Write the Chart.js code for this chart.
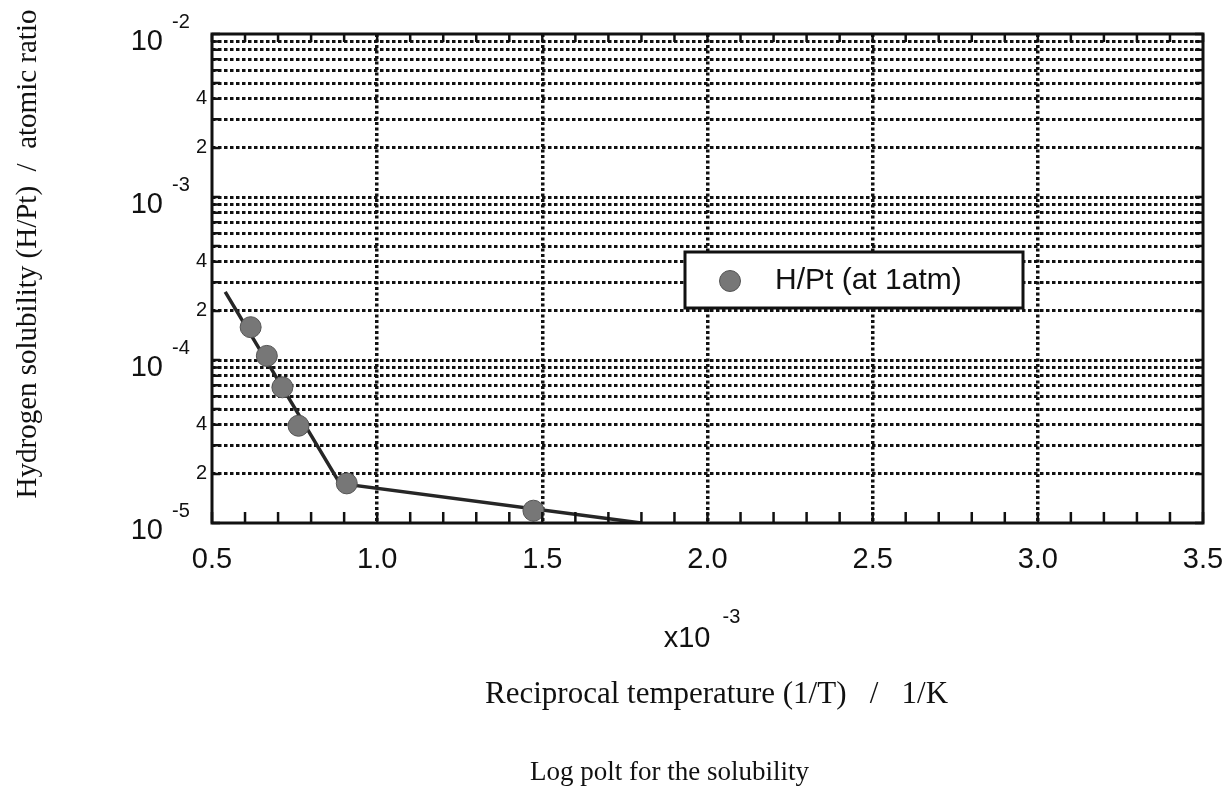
<!DOCTYPE html>
<html>
<head>
<meta charset="utf-8">
<title>Log polt for the solubility</title>
<style>
  html, body { margin: 0; padding: 0; background: #ffffff; }
  #wrap { width: 1225px; height: 793px; position: relative; }
</style>
<script src="https://cdn.jsdelivr.net/npm/chart.js@4.4.1/dist/chart.umd.min.js"></script>
</head>
<body>
<div id="wrap"><canvas id="chart" width="1225" height="793"></canvas></div>
<script>
// Reciprocal temperature 1/T, in units of 1e-3 1/K
const invTemp = [0.617, 0.666, 0.713, 0.762, 0.908, 1.473];
// Hydrogen solubility H/Pt (atomic ratio) at 1 atm
const solubility = [1.59e-4, 1.06e-4, 6.8e-5, 3.95e-5, 1.75e-5, 1.19e-5];
// Two straight-line segments (in the log plot) fitted through the measurements
const fitInvTemp = [0.54, 0.887, 1.80];
const fitSolubility = [2.62e-4, 1.75e-5, 1.0e-5];
const seriesLabel = 'H/Pt (at 1atm)';

// x axis: minor tick positions and labelled ticks
const xTickValues = [0.5, 0.6, 0.7, 0.8, 0.9, 1.0, 1.1, 1.2, 1.3, 1.4, 1.5, 1.6, 1.7, 1.8, 1.9,
  2.0, 2.1, 2.2, 2.3, 2.4, 2.5, 2.6, 2.7, 2.8, 2.9, 3.0, 3.1, 3.2, 3.3, 3.4, 3.5];
const xLabelValues = [0.5, 1.0, 1.5, 2.0, 2.5, 3.0, 3.5];
const xLabelTexts = ['0.5', '1.0', '1.5', '2.0', '2.5', '3.0', '3.5'];
const xScaleNote = ['x10', '-3'];

// y axis: log grid ticks and their labels (decades are written as powers of ten)
const yTickValues = [1e-5, 2e-5, 3e-5, 4e-5, 5e-5, 6e-5, 7e-5, 8e-5, 9e-5,
  1e-4, 2e-4, 3e-4, 4e-4, 5e-4, 6e-4, 7e-4, 8e-4, 9e-4,
  1e-3, 2e-3, 3e-3, 4e-3, 5e-3, 6e-3, 7e-3, 8e-3, 9e-3, 1e-2];
const yTickLabels = ['', '2', '', '4', '', '', '', '', '',
  '', '2', '', '4', '', '', '', '', '',
  '', '2', '', '4', '', '', '', '', '', ''];
const yDecadeValues = [1e-5, 1e-4, 1e-3, 1e-2];
const yDecadeExponents = ['-5', '-4', '-3', '-2'];

const xAxisTitle = 'Reciprocal temperature (1/T)   /   1/K';
const yAxisTitle = 'Hydrogen solubility (H/Pt)  /  atomic ratio';
const chartTitle = 'Log polt for the solubility';

const SANS = '"Liberation Sans", Arial, Helvetica, sans-serif';
const SERIF = '"Liberation Serif", "Times New Roman", Times, serif';
const INK = '#111111';

const near = (a, b) => Math.abs(a - b) < 1e-9 * Math.max(1, Math.abs(b));
const nearX = (a, b) => Math.abs(a - b) < 1e-6;

// Frame, inward tick marks, the boxed legend and the hand-set texts
const decorations = {
  id: 'decorations',
  afterDatasetsDraw(chart) {
    const { ctx, chartArea: a } = chart;
    const xs = chart.scales.x, ys = chart.scales.y;
    ctx.save();
    ctx.strokeStyle = INK;
    ctx.setLineDash([]);

    // inward minor ticks on bottom and top
    ctx.lineWidth = 2.5;
    xs.ticks.forEach(t => {
      const px = xs.getPixelForValue(t.value);
      ctx.beginPath();
      ctx.moveTo(px, a.bottom); ctx.lineTo(px, a.bottom - 11);
      ctx.moveTo(px, a.top); ctx.lineTo(px, a.top + 8);
      ctx.stroke();
    });
    // inward ticks on left and right
    ys.ticks.forEach(t => {
      const py = ys.getPixelForValue(t.value);
      ctx.beginPath();
      ctx.moveTo(a.left, py); ctx.lineTo(a.left + 8, py);
      ctx.moveTo(a.right, py); ctx.lineTo(a.right - 8, py);
      ctx.stroke();
    });

    // frame
    ctx.lineWidth = 3;
    ctx.strokeRect(a.left, a.top, a.right - a.left, a.bottom - a.top);

    // legend box
    const ds = chart.data.datasets[0];
    const lx = a.left + 473, ly = a.top + 218, lw = 338, lh = 56;
    ctx.fillStyle = '#ffffff';
    ctx.fillRect(lx, ly, lw, lh);
    ctx.lineWidth = 3;
    ctx.strokeRect(lx, ly, lw, lh);
    ctx.beginPath();
    ctx.arc(lx + 45, ly + lh / 2 + 1, ds.pointRadius, 0, Math.PI * 2);
    ctx.fillStyle = ds.backgroundColor;
    ctx.fill();
    ctx.lineWidth = ds.borderWidth;
    ctx.strokeStyle = ds.borderColor;
    ctx.stroke();
    ctx.fillStyle = INK;
    ctx.font = '30px ' + SANS;
    ctx.textAlign = 'left';
    ctx.textBaseline = 'middle';
    ctx.fillText(ds.label, lx + 90, ly + lh / 2 + 1);
    ctx.restore();
  },
  afterDraw(chart) {
    const { ctx, chartArea: a } = chart;
    const ys = chart.scales.y;
    ctx.save();
    ctx.fillStyle = INK;

    // powers of ten on the y axis
    yDecadeValues.forEach((v, i) => {
      const py = ys.getPixelForValue(v);
      ctx.font = '29px ' + SANS;
      ctx.textAlign = 'right';
      ctx.textBaseline = 'middle';
      ctx.fillText('10', a.left - 49, py + 8);
      ctx.font = '20px ' + SANS;
      ctx.textAlign = 'left';
      ctx.fillText(yDecadeExponents[i], a.left - 40, py - 12);
    });

    // x scale multiplier
    const cx = (a.left + a.right) / 2;
    ctx.font = '29px ' + SANS;
    ctx.textAlign = 'right';
    ctx.textBaseline = 'middle';
    ctx.fillText(xScaleNote[0], cx + 3, a.bottom + 116);
    ctx.font = '20px ' + SANS;
    ctx.textAlign = 'left';
    ctx.fillText(xScaleNote[1], cx + 15, a.bottom + 94);

    // axis titles and caption
    ctx.font = '31px ' + SERIF;
    ctx.textAlign = 'left';
    ctx.textBaseline = 'alphabetic';
    ctx.fillText(xAxisTitle, 485, a.bottom + 180);

    ctx.font = '27px ' + SERIF;
    ctx.fillText(chartTitle, 530, a.bottom + 257);

    ctx.translate(36, 254);
    ctx.rotate(-Math.PI / 2);
    ctx.font = '29px ' + SERIF;
    ctx.textAlign = 'center';
    ctx.fillText(yAxisTitle, 0, 0);
    ctx.restore();
  }
};

new Chart(document.getElementById('chart'), {
  type: 'scatter',
  data: {
    datasets: [
      {
        label: seriesLabel,
        data: invTemp.map((x, i) => ({ x, y: solubility[i] })),
        pointRadius: 10.5,
        pointHoverRadius: 10.5,
        backgroundColor: '#777777',
        borderColor: '#555555',
        borderWidth: 1,
        showLine: false,
        clip: false
      },
      {
        label: 'fit',
        data: fitInvTemp.map((x, i) => ({ x, y: fitSolubility[i] })),
        showLine: true,
        pointRadius: 0,
        borderColor: '#262626',
        borderWidth: 3.5,
        fill: false
      }
    ]
  },
  options: {
    responsive: false,
    animation: false,
    devicePixelRatio: 1,
    layout: { padding: { top: 34, right: 22, left: 0, bottom: 0 } },
    plugins: {
      legend: { display: false },
      tooltip: { enabled: false },
      title: { display: false }
    },
    scales: {
      x: {
        type: 'linear',
        min: 0.5,
        max: 3.5,
        afterBuildTicks(scale) { scale.ticks = xTickValues.map(v => ({ value: v })); },
        afterFit(scale) { scale.height = 270; scale.paddingLeft = 0; scale.paddingRight = 0; },
        border: { display: false, dash: [3, 2.5] },
        grid: {
          drawTicks: false,
          lineWidth: 3.5,
          color: ctx => {
            const v = ctx.tick ? ctx.tick.value : NaN;
            const interior = xLabelValues.some(m => nearX(m, v)) && !nearX(v, 0.5) && !nearX(v, 3.5);
            return interior ? INK : 'rgba(0,0,0,0)';
          }
        },
        ticks: {
          autoSkip: false,
          maxRotation: 0,
          padding: 20,
          color: INK,
          font: { family: SANS, size: 29 },
          callback: (value) => {
            const i = xLabelValues.findIndex(m => nearX(m, value));
            return i >= 0 ? xLabelTexts[i] : '';
          }
        }
      },
      y: {
        type: 'logarithmic',
        min: 1e-5,
        max: 1e-2,
        afterBuildTicks(scale) { scale.ticks = yTickValues.map(v => ({ value: v })); },
        afterFit(scale) { scale.width = 212; scale.paddingTop = 0; scale.paddingBottom = 0; },
        border: { display: false, dash: [3.5, 2.5] },
        grid: {
          drawTicks: false,
          lineWidth: 3,
          color: ctx => {
            const v = ctx.tick ? ctx.tick.value : NaN;
            return (near(v, 1e-5) || near(v, 1e-2)) ? 'rgba(0,0,0,0)' : INK;
          }
        },
        ticks: {
          autoSkip: false,
          padding: 5,
          color: INK,
          font: { family: SANS, size: 20 },
          callback: (value) => {
            const i = yTickValues.findIndex(m => near(m, value));
            return i >= 0 ? yTickLabels[i] : '';
          }
        }
      }
    }
  },
  plugins: [decorations]
});
</script>
</body>
</html>
